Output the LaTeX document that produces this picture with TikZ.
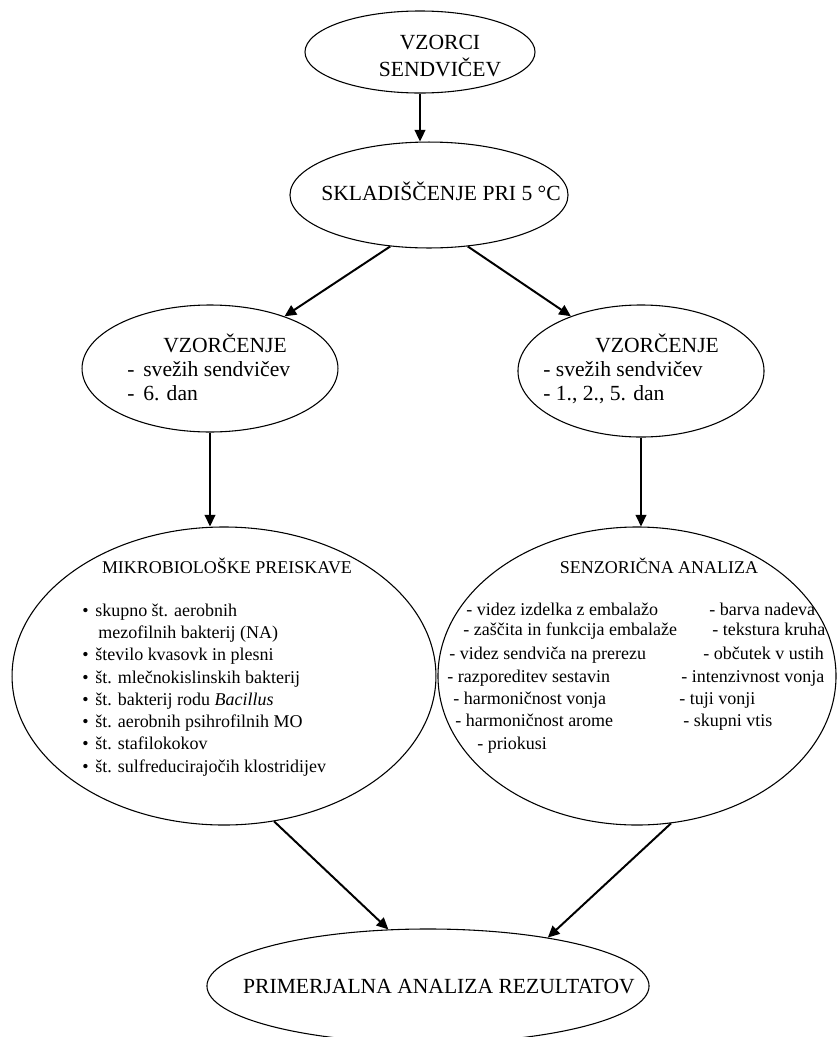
\documentclass[tikz,border=0pt]{standalone}
\usepackage{fontspec}
\setmainfont{Liberation Serif}
\usetikzlibrary{arrows.meta,shapes.geometric}
\tikzstyle{arrow} = [line width=1.1pt,->,>={Triangle[length=6.5pt,width=6pt]}]
\tikzstyle{oval} = [ellipse, draw, line width=0.6pt, inner sep=0pt]
\tikzstyle{big} = [font=\fontsize{12}{14.5}\selectfont, inner sep=0pt]
\tikzstyle{small} = [font=\fontsize{10}{12.35}\selectfont, inner sep=0pt]

\begin{document}
\begin{tikzpicture}[x=0.556pt, y=-0.556pt]
    \useasboundingbox (0,0) rectangle (837,1037);
    \clip (0,0) rectangle (837,1037);

    % Ellipses
    \node[oval, minimum width=127.9pt, minimum height=45.6pt] (sendv) at (420,52) {};
    \node[oval, minimum width=154.6pt, minimum height=58.9pt] (skl) at (429,195) {};
    \node[oval, minimum width=142.3pt, minimum height=70.6pt] (vzl) at (210,368.5) {};
    \node[oval, minimum width=136.8pt, minimum height=73.4pt] (vzr) at (641,371) {};
    \node[oval, minimum width=235.7pt, minimum height=165.7pt] (mikro) at (224,676) {};
    \node[oval, minimum width=221.3pt, minimum height=165.7pt] (senz) at (637,676) {};
    \node[oval, minimum width=245.8pt, minimum height=63.4pt] (rez) at (428,986) {};

    % Texts
    \node[big, anchor=base, align=center] (sendvtxt) at (440,76) {VZORCI\\SENDVIČEV};
    \node[big, anchor=base] (skltxt) at (441,200) {SKLADIŠČENJE PRI 5 °C};
    \node[big, anchor=base west, align=left, font=\fontsize{12}{13.3}\selectfont] (vzltxt) at (127,400)
        {\hspace{20pt}VZORČENJE\\-\hspace{4.9pt}svežih sendvičev\\-\hspace{4.9pt}6. dan};
    \node[big, anchor=base west, align=left, font=\fontsize{12}{13.3}\selectfont] (vzrtxt) at (543,400)
        {\hspace{28.9pt}VZORČENJE\\- svežih sendvičev\\- 1., 2., 5. dan};
    \node[big, anchor=base] (reztxt) at (439,993) {PRIMERJALNA ANALIZA REZULTATOV};

    % Microbiology list
    \node[small, anchor=base] (mikrotit) at (227,573) {MIKROBIOLOŠKE PREISKAVE};
    \node[small, anchor=base west, align=left] (mikrolist) at (82,772)
        {\makebox[7.2pt][l]{\textbullet}skupno št. aerobnih\\
         \hspace{8.9pt}mezofilnih bakterij (NA)\\
         \makebox[7.2pt][l]{\textbullet}število kvasovk in plesni\\
         \makebox[7.2pt][l]{\textbullet}št. mlečnokislinskih bakterij\\
         \makebox[7.2pt][l]{\textbullet}št. bakterij rodu \textit{Bacillus}\\
         \makebox[7.2pt][l]{\textbullet}št. aerobnih psihrofilnih MO\\
         \makebox[7.2pt][l]{\textbullet}št. stafilokokov\\
         \makebox[7.2pt][l]{\textbullet}št. sulfreducirajočih klostridijev};

    % Sensory list
    \node[small, anchor=base] (senztit) at (659,573) {SENZORIČNA ANALIZA};
    \node[small, anchor=base west] (sa1) at (466,615) {- videz izdelka z embalažo};
    \node[small, anchor=base west] (sa2) at (463,635) {- zaščita in funkcija embalaže};
    \node[small, anchor=base west] (sa3) at (449,659) {- videz sendviča na prerezu};
    \node[small, anchor=base west] (sa4) at (447,682) {- razporeditev sestavin};
    \node[small, anchor=base west] (sa5) at (453,704) {- harmoničnost vonja};
    \node[small, anchor=base west] (sa6) at (455,726) {- harmoničnost arome};
    \node[small, anchor=base west] (sa7) at (477,749) {- priokusi};
    \node[small, anchor=base west] (sb1) at (709,615) {- barva nadeva};
    \node[small, anchor=base west] (sb2) at (712,635) {- tekstura kruha};
    \node[small, anchor=base west] (sb3) at (703,659) {- občutek v ustih};
    \node[small, anchor=base west] (sb4) at (681,682) {- intenzivnost vonja};
    \node[small, anchor=base west] (sb5) at (679,704) {- tuji vonji};
    \node[small, anchor=base west] (sb6) at (683,726) {- skupni vtis};

    % Arrows
    \draw[arrow] (sendv.south) -- (sendv.south |- skl.north);
    \draw[arrow] (skl.-127) -- (vzl.35);
    \draw[arrow] (skl.-53) -- (vzr.142);
    \draw[arrow] (vzl.south) -- (vzl.south |- mikro.north);
    \draw[arrow] (vzr.south) -- (vzr.south |- senz.north);
    \draw[arrow] (mikro.-71) -- (rez.125);
    \draw[arrow] (senz.-77) -- (rez.22);
\end{tikzpicture}
\end{document}
